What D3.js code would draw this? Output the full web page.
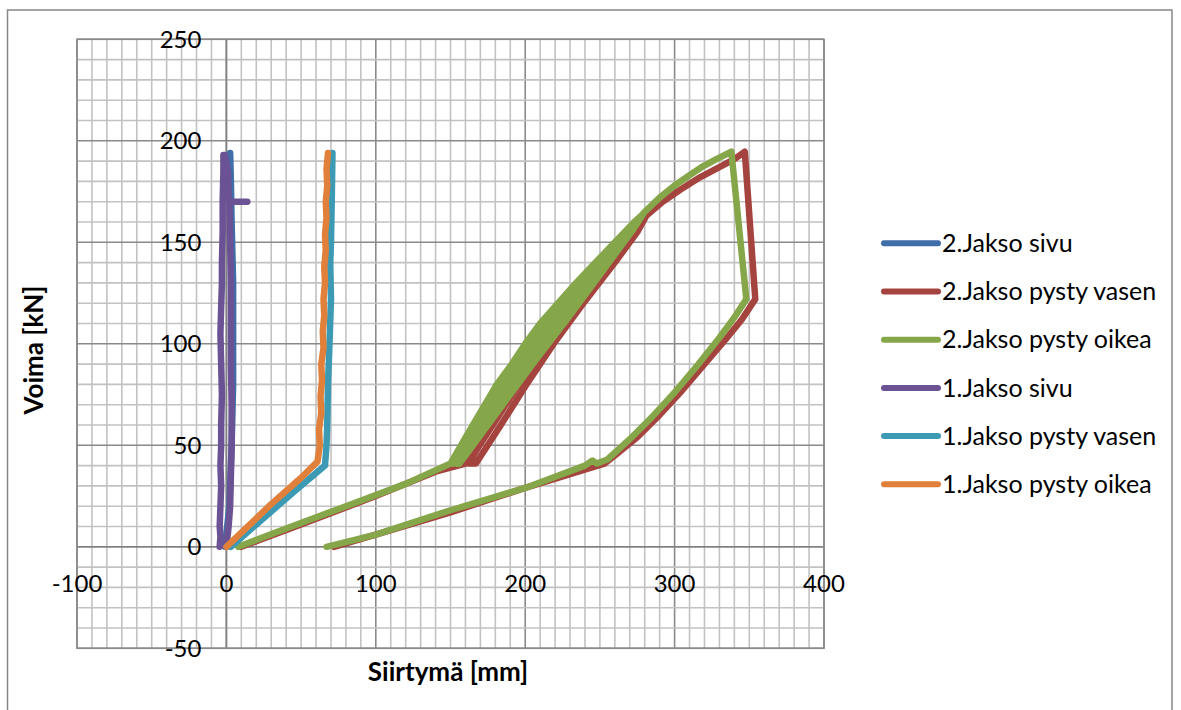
<!doctype html>
<html>
<head>
<meta charset="utf-8">
<style>
    body { margin: 0; background: #fff; }
    text { font-family: Lato, "Open Sans", sans-serif; fill: #000; }
</style>
<script src="https://cdn.jsdelivr.net/npm/d3@7"></script>
</head>
<body>
<svg width="1181" height="710"></svg>
<script>

// series data [siirtymä mm, voima kN]
var jakso2Sivu = [[-1,0],[2,20],[3.5,50],[4.5,80],[4.5,110],[4.5,130],[3.5,160],[3,180],[2.5,194]];

var jakso2Vasen = [[10,0],[50,11],[100,25],[140,37],[160,41],
    [165,45],[180,62],[200,85],[220,107],[240,127],[258,145],[266,152],
    [255,141],[235,121],[214,99],[193,77],[175,57],[162,41],
    [167,41],[182,58],[200,79],[220,101],[240,121],[260,140],[275,155],[281,163],
    [292,170],[304,176],[317,182],[330,187],[340,191],[347,194.6],
    [354,122],[345,112],[334,102],[320,90],[305,77],[290,65],[275,54],[260,45],[253,41],
    [200,29],[150,17],[100,6],[72,0]];

var jakso2Oikea = [[8,0],[40,9],[80,20],[120,31],[150,41],
    [157,50],[165,60],[173,70],[181,80],[191,90],[200,100],[210,110],[222,120],[234,130],[247,140],[260,150],[273,160],[279,164],
    [272,156],[250,134],[228,112],[205,90],[180,65],[156,41],
    [159,50],[168,60],[177,70],[185,80],[195,90],[205,100],[215,110],[226,120],[238,130],[250,140],[262,150],[274,160],
    [264,149],[242,127],[220,105],[197,82],[174,59],[154,41],
    [161,50],[171,60],[180,70],[189,80],[199,90],[209,100],[219,110],[230,120],[241,130],[252,140],[263,150],[275,160],
    [265,150],[243,128],[221,106],[199,84],[176,61],[155,41],
    [163,50],[173,60],[183,70],[192,80],[203,90],[212,100],[222,110],[233,120],[243,130],[255,140],[265,150],[270,155],
    [250,135],[228,113],[205,90],[182,67],[160,45],[152,41],
    [158,50],[166,60],[174,70],[182,80],[192,90],[201,100],[211,110],[223,120],[235,130],[248,140],[261,150],[274,160],
    [280,165],[290,172],[300,178],[310,183],[318,187],[328,191],[338,194.6],
    [348,122],[340,113],[330,103],[316,90],[300,76],[285,64],[270,53],[255,43],[248,41],[245,42.5],
    [240,40],[200,29],[150,18],[100,6],[67,0]];

var jakso1Sivu = [[-4.5,0],[-4,5],[-4.5,10],[-4,20],[-3.5,30],[-4,40],[-3.5,50],[-3.5,60],[-3,75],[-3.5,90],
    [-4,105],[-3.5,118],[-3,130],[-3,140],[-2.5,155],[-2.5,170],[-2,185],[-2,193],[-1,193],[1,185],
    [1.5,172],[2,170],[14,170],[2,170],[2.5,150],[3,130],[3,110],[3,90],[3.5,70],[3.5,50],
    [3,35],[2.5,20],[1.5,10],[0,0]];

var jakso1Vasen = [[3,0],[20,11],[45,27],[66,40],[67,50],[67.5,60],[68,80],[69,100],[70,122],[69.5,140],
    [70,150],[70.5,170],[71,194]];

var jakso1Oikea = [[0,0],[10,7],[30,21],[50,34],[61,42],[62.5,50],[62,58],[63.5,66],[63,74],[64,82],
    [63.5,90],[65,98],[64.5,106],[65.5,114],[65,122],[66,130],[65.5,138],[66.5,146],[66,154],[67,162],
    [66.5,170],[67.5,178],[67,186],[68,194]];

var seriesNames = ["2.Jakso sivu", "2.Jakso pysty vasen", "2.Jakso pysty oikea",
                   "1.Jakso sivu", "1.Jakso pysty vasen", "1.Jakso pysty oikea"];
var seriesData = [jakso2Sivu, jakso2Vasen, jakso2Oikea, jakso1Sivu, jakso1Vasen, jakso1Oikea];
var seriesColors = ["#3f6ea8", "#a5443f", "#86a64a", "#6b5294", "#3d9ab4", "#e0803a"];

var xTicks = [-100, 0, 100, 200, 300, 400];
var yTicks = [-50, 0, 50, 100, 150, 200, 250];

var svg = d3.select("svg");

// outer chart border
svg.append("rect")
   .attr("x", 7.5).attr("y", 10)
   .attr("width", 1164.5).attr("height", 720)
   .attr("fill", "none")
   .attr("stroke", "#878787")
   .attr("stroke-width", 1.5);

var x = d3.scaleLinear().domain([-100, 400]).range([77, 824]),
    y = d3.scaleLinear().domain([-50, 250]).range([648.3, 39.3]);

var grid = svg.append("g");

// grid every 10, darker on the major steps
grid.selectAll(".vx")
    .data(d3.range(-100, 401, 10))
    .enter().append("line")
    .attr("x1", d => x(d)).attr("x2", d => x(d))
    .attr("y1", y(-50)).attr("y2", y(250))
    .attr("stroke", d => d % 100 == 0 ? "#8a8a8a" : "#c2c2c2")
    .attr("stroke-width", 1.6);

grid.selectAll(".hy")
    .data(d3.range(-50, 251, 10))
    .enter().append("line")
    .attr("x1", x(-100)).attr("x2", x(400))
    .attr("y1", d => y(d)).attr("y2", d => y(d))
    .attr("stroke", d => d % 50 == 0 ? "#8a8a8a" : "#c2c2c2")
    .attr("stroke-width", 1.6);

// axes through zero
svg.append("line")
   .attr("x1", x(0)).attr("x2", x(0)).attr("y1", y(-50)).attr("y2", y(250))
   .attr("stroke", "#808080").attr("stroke-width", 1.6);
svg.append("line")
   .attr("x1", x(-100)).attr("x2", x(400)).attr("y1", y(0)).attr("y2", y(0))
   .attr("stroke", "#808080").attr("stroke-width", 1.6);

// plot border
svg.append("rect")
   .attr("x", x(-100)).attr("y", y(250))
   .attr("width", x(400) - x(-100)).attr("height", y(-50) - y(250))
   .attr("fill", "none").attr("stroke", "#8a8a8a").attr("stroke-width", 1.6);

// tick labels
svg.selectAll(".xl")
   .data(xTicks)
   .enter().append("text")
   .attr("x", d => x(d))
   .attr("y", y(0) + 45)
   .attr("text-anchor", "middle")
   .attr("font-size", "24px")
   .text(d => d);

svg.selectAll(".yl")
   .data(yTicks)
   .enter().append("text")
   .attr("x", x(0) - 25)
   .attr("y", d => y(d))
   .attr("dy", "0.35em")
   .attr("text-anchor", "end")
   .attr("font-size", "24px")
   .text(d => d);

// axis titles
svg.append("text")
   .attr("transform", "translate(43,350) rotate(-90)")
   .attr("text-anchor", "middle")
   .attr("font-size", "26px")
   .attr("font-weight", "bold")
   .text("Voima [kN]");

svg.append("text")
   .attr("x", 448).attr("y", 681)
   .attr("text-anchor", "middle")
   .attr("font-size", "26px")
   .attr("font-weight", "bold")
   .text("Siirtymä [mm]");

// series
var line = d3.line().x(d => x(d[0])).y(d => y(d[1]));

svg.append("g").selectAll("path")
   .data(seriesData)
   .enter().append("path")
   .attr("d", line)
   .attr("fill", "none")
   .attr("stroke", (d, i) => seriesColors[i])
   .attr("stroke-width", 6.5)
   .attr("stroke-linejoin", "round")
   .attr("stroke-linecap", "round");

// legend
var legend = svg.append("g").selectAll("g")
   .data(seriesNames)
   .enter().append("g")
   .attr("transform", (d, i) => "translate(0," + (243.3 + i * 48.2) + ")");

legend.append("line")
   .attr("x1", 884).attr("x2", 938)
   .attr("stroke", (d, i) => seriesColors[i])
   .attr("stroke-width", 6)
   .attr("stroke-linecap", "round");

legend.append("text")
   .attr("x", 942)
   .attr("dy", "0.35em")
   .attr("font-size", "25px")
   .text(d => d);

</script>
</body>
</html>
